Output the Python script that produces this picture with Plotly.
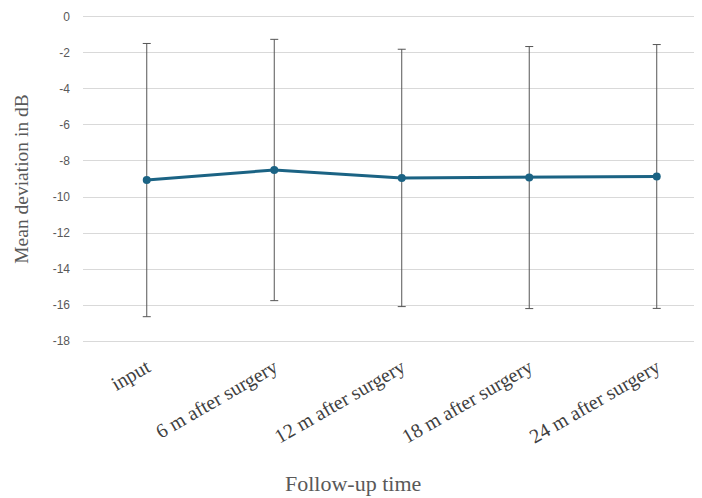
import plotly.graph_objects as go

categories = ["input", "6 m after surgery", "12 m after surgery", "18 m after surgery", "24 m after surgery"]
mean_md = [-9.06, -8.50, -8.94, -8.92, -8.86]
sd_md = [7.58, 7.25, 7.14, 7.27, 7.32]
y_ticks = [0, -2, -4, -6, -8, -10, -12, -14, -16, -18]
y_tick_labels = ["0", "-2", "-4", "-6", "-8", "-10", "-12", "-14", "-16", "-18"]

fig = go.Figure()
fig.add_trace(go.Scatter(
    x=list(range(len(categories))),
    y=mean_md,
    mode="lines+markers",
    line=dict(color="#1b6384", width=3),
    marker=dict(color="#1b6384", size=8),
    error_y=dict(type="data", array=sd_md, visible=True, color="#555555", thickness=1, width=4),
    showlegend=False,
))

fig.update_layout(
    width=694, height=490,
    margin=dict(l=75, r=0, t=7, b=155, autoexpand=False),
    plot_bgcolor="white", paper_bgcolor="white",
    xaxis=dict(
        tickmode="array", tickvals=list(range(len(categories))), ticktext=categories,
        range=[-0.5, 4.355], showgrid=False, zeroline=False, showline=False,
        tickangle=-30, tickfont=dict(family="Liberation Serif", size=20, color="#404040"),
        ticks="", ticklabelstandoff=8, automargin=False,
    ),
    yaxis=dict(
        range=[-18.1, 0.1], tickmode="array", tickvals=y_ticks, ticktext=y_tick_labels,
        showgrid=True, gridcolor="#d9d9d9", gridwidth=1,
        zeroline=False, showline=False, automargin=False,
        tickfont=dict(family="Liberation Sans", size=12, color="#595959"),
        ticklabelstandoff=12,
        title=dict(text="Mean deviation in dB", font=dict(family="Liberation Serif", size=19.5, color="#595959"), standoff=18),
    ),
    annotations=[dict(
        text="Follow-up time", xref="paper", yref="paper", x=0.436, y=-0.427,
        xanchor="center", yanchor="middle", showarrow=False,
        font=dict(family="Liberation Serif", size=22, color="#595959"),
    )],
)

fig.write_html("out.html")
